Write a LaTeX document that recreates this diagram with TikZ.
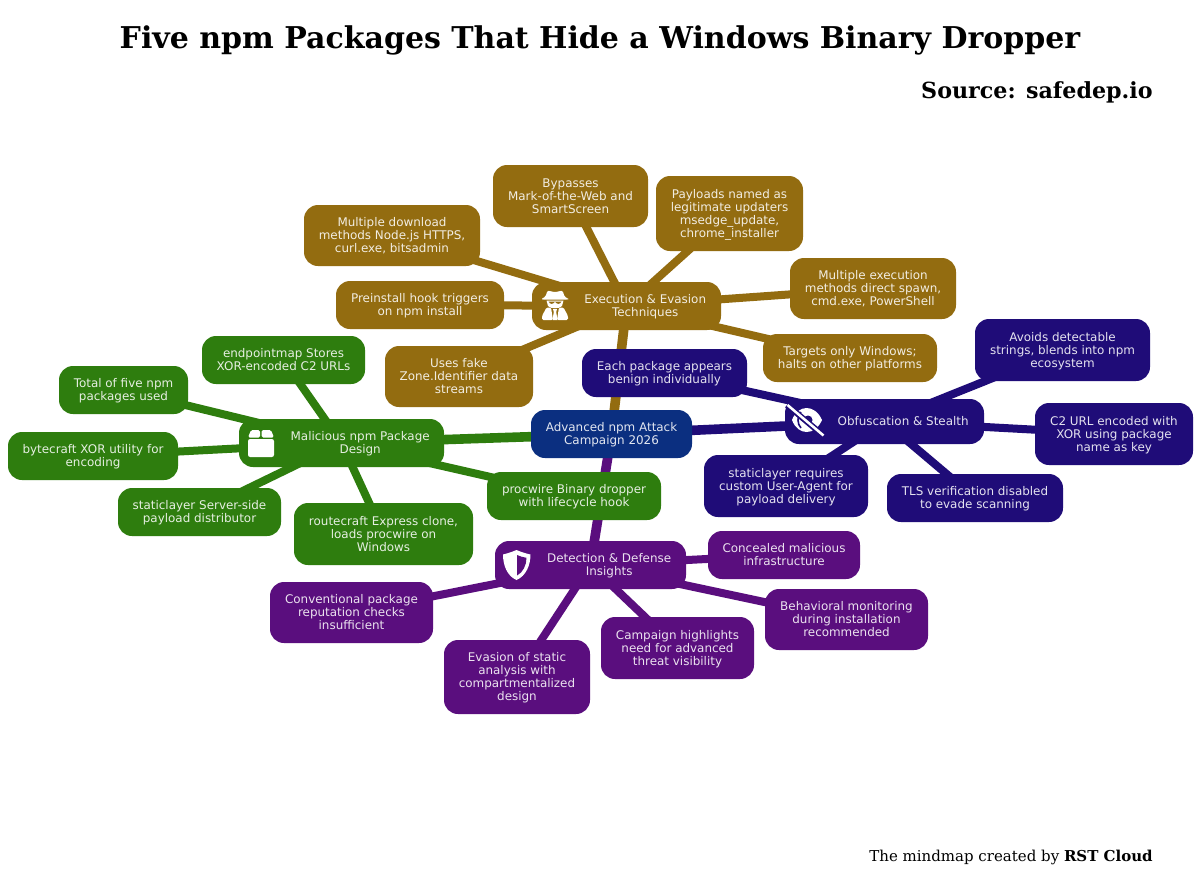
\documentclass[tikz,border=0pt]{standalone}
\usepackage{fontspec}
\setmainfont{DejaVu Sans}
\newfontfamily\serifface{DejaVu Serif}
\usetikzlibrary{backgrounds}
\definecolor{rootc}{HTML}{0B2F80}
\definecolor{execc}{HTML}{936C10}
\definecolor{obfc}{HTML}{1F0C78}
\definecolor{malc}{HTML}{2E7D0E}
\definecolor{detc}{HTML}{5A0E7E}
\newcommand{\lines}[1]{\raisebox{-1.2pt}[\height][\depth]{\begin{tabular}{@{}c@{}}#1\end{tabular}}}
\newcommand{\iconlines}[1]{\hspace{28pt}\raisebox{-1.2pt}[\height][\depth]{\begin{tabular}{@{}c@{}}#1\end{tabular}}}
\tikzset{
  x=0.75pt,y=-0.75pt,
  box/.style={rectangle,rounded corners=10.5pt,inner sep=0pt,text=#1!12!white,font=\fontsize{8.95}{9.75}\selectfont,align=center},
  sz/.style 2 args={minimum width=#1*0.75pt,minimum height=#2*0.75pt},
  execbox/.style={box=execc,fill=execc},
  obfbox/.style={box=obfc,fill=obfc},
  malbox/.style={box=malc,fill=malc},
  detbox/.style={box=detc,fill=detc},
  rootbox/.style={box=rootc,fill=rootc},
  execedge/.style={draw=execc,line width=6pt},
  obfedge/.style={draw=obfc,line width=6pt},
  maledge/.style={draw=malc,line width=6pt},
  detedge/.style={draw=detc,line width=6pt},
  bigedge/.style={line width=7.2pt},
  titlefont/.style={font=\serifface\bfseries\fontsize{22.5}{26}\selectfont},
  sourcefont/.style={font=\serifface\bfseries\fontsize{16.65}{20}\selectfont},
  footfont/.style={font=\serifface\fontsize{11.25}{14}\selectfont},
}
\begin{document}
\begin{tikzpicture}
\useasboundingbox (0,0) rectangle (1200,879);
\node[titlefont] (title) at (600,40.5) {Five npm Packages That Hide a Windows Binary Dropper};
\node[sourcefont,anchor=east,inner sep=0pt] (source) at (1153,92) {Source: safedep.io};
\node[footfont,anchor=east,inner sep=0pt] (foot) at (1153,857) {The mindmap created by \textbf{RST Cloud}};

% root
\node[rootbox,sz={161}{48}] (root) at (611.5,434) {\lines{Advanced npm Attack\\Campaign 2026}};
% execution
\node[execbox,sz={189}{48}] (exec) at (626.5,306) {\iconlines{Execution \& Evasion\\Techniques}};
\node[execbox,sz={176}{61}] (e1) at (392,235.5) {\lines{Multiple download\\methods Node.js HTTPS,\\curl.exe, bitsadmin}};
\node[execbox,sz={155}{62}] (e2) at (570.5,196) {\lines{Bypasses\\Mark-of-the-Web and\\SmartScreen}};
\node[execbox,sz={147}{75}] (e3) at (729.5,213.5) {\lines{Payloads named as\\legitimate updaters\\msedge\_update,\\chrome\_installer}};
\node[execbox,sz={166}{61}] (e4) at (873,288.5) {\lines{Multiple execution\\methods direct spawn,\\cmd.exe, PowerShell}};
\node[execbox,sz={174}{48}] (e5) at (850,358) {\lines{Targets only Windows;\\halts on other platforms}};
\node[execbox,sz={168}{48}] (e6) at (420,305) {\lines{Preinstall hook triggers\\on npm install}};
\node[execbox,sz={148}{61}] (e7) at (459,376.5) {\lines{Uses fake\\Zone.Identifier data\\streams}};
% obfuscation
\node[obfbox,sz={199}{45}] (obf) at (884.5,421.5) {\iconlines{Obfuscation \& Stealth}};
\node[obfbox,sz={175}{62}] (o1) at (1062.5,350) {\lines{Avoids detectable\\strings, blends into npm\\ecosystem}};
\node[obfbox,sz={158}{62}] (o2) at (1114,434) {\lines{C2 URL encoded with\\XOR using package\\name as key}};
\node[obfbox,sz={176}{48}] (o3) at (975,498) {\lines{TLS verification disabled\\to evade scanning}};
\node[obfbox,sz={164}{62}] (o4) at (786,486) {\lines{staticlayer requires\\custom User-Agent for\\payload delivery}};
\node[obfbox,sz={165}{48}] (o5) at (664.5,373) {\lines{Each package appears\\benign individually}};
% malicious
\node[malbox,sz={205}{48}] (mal) at (341.5,443) {\iconlines{Malicious npm Package\\Design}};
\node[malbox,sz={163}{48}] (m1) at (283.5,360) {\lines{endpointmap Stores\\XOR-encoded C2 URLs}};
\node[malbox,sz={129}{48}] (m2) at (123.5,390) {\lines{Total of five npm\\packages used}};
\node[malbox,sz={170}{48}] (m3) at (93,456) {\lines{bytecraft XOR utility for\\encoding}};
\node[malbox,sz={163}{48}] (m4) at (199.5,512) {\lines{staticlayer Server-side\\payload distributor}};
\node[malbox,sz={179}{62}] (m5) at (383.5,534) {\lines{routecraft Express clone,\\loads procwire on\\Windows}};
\node[malbox,sz={174}{48}] (m6) at (574,496) {\lines{procwire Binary dropper\\with lifecycle hook}};
% detection
\node[detbox,sz={191}{48}] (det) at (590.5,565) {\iconlines{Detection \& Defense\\Insights}};
\node[detbox,sz={152}{48}] (d1) at (784,555) {\lines{Concealed malicious\\infrastructure}};
\node[detbox,sz={163}{61}] (d2) at (846.5,619.5) {\lines{Behavioral monitoring\\during installation\\recommended}};
\node[detbox,sz={153}{62}] (d3) at (677.5,648) {\lines{Campaign highlights\\need for advanced\\threat visibility}};
\node[detbox,sz={146}{74}] (d4) at (517,677) {\lines{Evasion of static\\analysis with\\compartmentalized\\design}};
\node[detbox,sz={163}{61}] (d5) at (351.5,612.5) {\lines{Conventional package\\reputation checks\\insufficient}};

\begin{pgfonlayer}{background}
\fill[white] (0,0) rectangle (1200,879);
\draw[execedge,bigedge] (root.center) -- (exec.center);
\draw[obfedge,bigedge] (root.center) -- (obf.center);
\draw[maledge,bigedge] (root.center) -- (mal.center);
\draw[detedge,bigedge] (root.center) -- (det.center);
\foreach \n in {e1,e2,e3,e4,e5,e6,e7} \draw[execedge] (exec.center) -- (\n.center);
\foreach \n in {o1,o2,o3,o4,o5} \draw[obfedge] (obf.center) -- (\n.center);
\foreach \n in {m1,m2,m3,m4,m5,m6} \draw[maledge] (mal.center) -- (\n.center);
\foreach \n in {d1,d2,d3,d4,d5} \draw[detedge] (det.center) -- (\n.center);
\end{pgfonlayer}

% spy icon
\fill[white,rounded corners=1pt] (542,298.7) -- (545.5,296.5) -- (547.5,290.5) -- (551.5,291.5) -- (555,292) -- (558.5,291.5) -- (562.5,290.5) -- (564.5,296.5) -- (568,298.7) -- (568,299.5) -- (542,299.5) -- cycle;
\fill[white] (546.5,300.5) -- (563.5,300.5) -- (562,306) .. controls (560,309) and (550,309) .. (548,306) -- cycle;
\fill[execc] (548.5,301.5) .. controls (550,304.5) and (553,304.5) .. (554.5,302) -- (555.5,302) .. controls (557,304.5) and (560,304.5) .. (561.5,301.5) -- cycle;
\fill[white,rounded corners=1pt] (546.5,307.5) -- (551,307.5) -- (553,320) -- (542,320) -- (542,316) -- cycle;
\fill[white,rounded corners=1pt] (563.5,307.5) -- (559,307.5) -- (557,320) -- (568,320) -- (568,316) -- cycle;
\fill[white] (553,309) -- (557,309) -- (556.2,312) -- (557.5,320) -- (552.5,320) -- (553.8,312) -- cycle;
% package icon
\fill[white,rounded corners=1.6pt] (248,439) rectangle (274,457);
\fill[white,rounded corners=1.2pt] (248,437.6) -- (251,430) -- (260,430) -- (260,437.6) -- cycle;
\fill[white,rounded corners=1.2pt] (261.6,437.6) -- (261.6,430) -- (271,430) -- (274,437.6) -- cycle;
% shield icon
\fill[white] (516.5,550) .. controls (521,552) and (526,553.5) .. (530.5,554.5)
  .. controls (530.5,565) and (526,576) .. (516.5,580)
  .. controls (507,576) and (503,565) .. (503,554.5)
  .. controls (507,553.5) and (512,552) .. (516.5,550) -- cycle;
\fill[detc] (517,555) .. controls (520,556.5) and (523.5,557.3) .. (526.5,557.8)
  .. controls (526.5,565) and (523,572.5) .. (517,575.5) -- cycle;
% eye-slash icon
\fill[white] (792,420) .. controls (798,404) and (815,404) .. (822,420)
  .. controls (815,436) and (798,436) .. (792,420) -- cycle;
\draw[obfc,line width=1.2pt] (801,412) .. controls (797,416) and (797,424) .. (801,428);
\fill[obfc] (808,420) circle[x radius=4.5,y radius=4.5];
\draw[obfc,line width=4.4pt] (787,405) -- (824,436);
\draw[white,line width=1.9pt] (787.5,405) -- (823.5,435.5);
\end{tikzpicture}
\end{document}
